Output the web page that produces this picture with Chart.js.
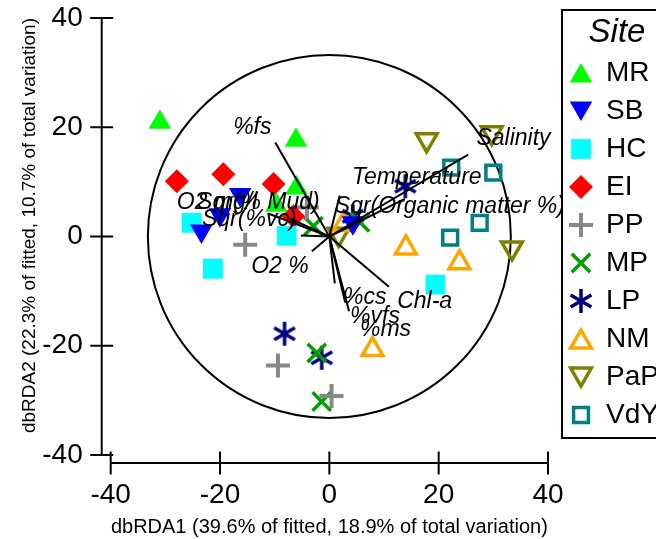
<!DOCTYPE html>
<html>
<head>
<meta charset="utf-8">
<script src="https://cdn.jsdelivr.net/npm/chart.js@4.4.0/dist/chart.umd.min.js"></script>
<style>
  html, body { margin: 0; padding: 0; background: #fff; }
  canvas { display: block; }
</style>
</head>
<body>
<canvas id="dbrda" width="656" height="539"></canvas>
<script>
// site scores on dbRDA1 / dbRDA2
const MR = [[-31.0, 20.9], [-6.1, 17.6], [-6.0, 8.9], [-9.7, 5.7]];
const SB = [[-16.3, 7.7], [-20.0, 4.0], [-23.4, 1.0], [4.3, 2.5]];
const HC = [[-25.2, 2.5], [-7.8, 0.1], [-21.3, -5.9], [19.4, -8.8]];
const EI = [[-27.9, 10.1], [-19.4, 11.4], [-10.2, 9.6], [-6.6, 3.7]];
const PP = [[-15.4, -1.5], [-9.4, -23.6], [0.4, -29.2], [-4.1, 5.3]];
const MP = [[-2.3, -21.3], [-1.4, -30.2], [-2.9, 1.9], [5.6, 2.6]];
const LP = [[13.9, 9.2], [-8.2, -17.8], [-1.4, -22.2], [4.3, 3.7]];
const NM = [[14.0, -2.1], [23.8, -4.8], [7.9, -20.7], [2.6, 2.2]];
const PaP = [[17.8, 17.7], [29.7, 19.0], [33.4, -2.1], [1.7, 0.4]];
const VdY = [[22.3, 12.6], [30.0, 11.7], [22.1, -0.2], [27.5, 2.5]];

// predictor vectors (end points, drawn from the origin)
const vectorNames = ['%fs', 'Salinity', 'Temperature', 'Sqr(Organic matter %)', 'O2 mg/l', 'Sqr(% Mud)',
  'Sqr(%vc)', 'O2 %', '%cs', 'Chl-a', '%vfs', '%ms'];
const vectorX = [-9.9, 25.4, 13.8, 1.9, -5.2, -11.2, -7.7, -3.2, 1.0, 10.9, 2.9, 3.6];
const vectorY = [17.2, 15.0, 6.9, 7.5, 0.2, 4.2, 3.5, -2.7, -8.6, -9.2, -12.1, -13.7];

const axisTicks = [-40, -20, 0, 20, 40];
const circleRadius = 33.2;

// where each vector name is written (left edge, middle), in axis units
const labelAt = [[-17.6, 20.0], [26.9, 17.9], [4.15, 10.8], [1.0, 5.5], [-27.9, 6.2], [-24.2, 6.2],
  [-23.3, 3.1], [-14.3, -5.5], [2.5, -11.2], [12.4, -11.9], [3.8, -14.6], [5.6, -17.0]];

const FONT = '"Liberation Sans", Arial, sans-serif';
Chart.defaults.font.family = FONT;
Chart.defaults.color = '#000';

// six-armed asterisk for LP
function asterisk(color) {
  const c = document.createElement('canvas');
  c.width = 26; c.height = 26;
  const g = c.getContext('2d');
  g.strokeStyle = color;
  g.lineWidth = 3.5;
  g.beginPath();
  [90, 30, 150].forEach(function (deg) {
    const a = deg * Math.PI / 180;
    g.moveTo(13 - Math.cos(a) * 12, 13 - Math.sin(a) * 12);
    g.lineTo(13 + Math.cos(a) * 12, 13 + Math.sin(a) * 12);
  });
  g.stroke();
  return c;
}

const open = 'rgba(0,0,0,0)';
const siteStyles = [
  { label: 'MR', data: MR, pointStyle: 'triangle', rotation: 0, radius: 13, bg: '#00ff00', bd: '#00ff00', bw: 0 },
  { label: 'SB', data: SB, pointStyle: 'triangle', rotation: 180, radius: 13, bg: '#0000ff', bd: '#0000ff', bw: 0 },
  { label: 'HC', data: HC, pointStyle: 'rect', rotation: 0, radius: 14, bg: '#00ffff', bd: '#00ffff', bw: 0 },
  { label: 'EI', data: EI, pointStyle: 'rectRot', rotation: 0, radius: 12, bg: '#ff0000', bd: '#ff0000', bw: 0 },
  { label: 'PP', data: PP, pointStyle: 'cross', rotation: 0, radius: 12, bg: open, bd: '#888888', bw: 4 },
  { label: 'MP', data: MP, pointStyle: 'crossRot', rotation: 0, radius: 13, bg: open, bd: '#00a000', bw: 3.5 },
  { label: 'LP', data: LP, pointStyle: asterisk('#000080'), rotation: 0, radius: 12, bg: open, bd: '#000080', bw: 3.5 },
  { label: 'NM', data: NM, pointStyle: 'triangle', rotation: 0, radius: 12, bg: open, bd: '#ffa500', bw: 3.5 },
  { label: 'PaP', data: PaP, pointStyle: 'triangle', rotation: 180, radius: 12, bg: open, bd: '#808000', bw: 3.5 },
  { label: 'VdY', data: VdY, pointStyle: 'rect', rotation: 0, radius: 10.5, bg: open, bd: '#008080', bw: 3.5 }
];

const vectorSets = vectorNames.map(function (name, i) {
  return {
    label: name,
    data: [{ x: 0, y: 0 }, { x: vectorX[i], y: vectorY[i] }],
    showLine: true,
    borderColor: '#000',
    borderWidth: 2,
    pointRadius: 0,
    order: 0
  };
});

const siteSets = siteStyles.map(function (s) {
  return {
    label: s.label,
    data: s.data.map(function (p) { return { x: p[0], y: p[1] }; }),
    pointStyle: s.pointStyle,
    rotation: s.rotation,
    pointRadius: s.radius,
    backgroundColor: s.bg,
    borderColor: s.bd,
    borderWidth: s.bw,
    order: 1
  };
});

// detached axes, correlation circle, vector names and the Site key
const ordination = {
  id: 'ordination',
  beforeDatasetsDraw(chart) {
    const ctx = chart.ctx, xs = chart.scales.x, ys = chart.scales.y;
    ctx.save();
    ctx.strokeStyle = '#000';
    ctx.lineWidth = 2;
    const cx = xs.getPixelForValue(0), cy = ys.getPixelForValue(0);
    const r = xs.getPixelForValue(circleRadius) - cx;
    ctx.beginPath();
    ctx.arc(cx, cy, r, 0, Math.PI * 2);
    ctx.stroke();

    const ax = xs.left - 9, ay = ys.bottom + 8, t = 11.5;
    ctx.beginPath();
    ctx.moveTo(ax, ys.getPixelForValue(axisTicks[axisTicks.length - 1]));
    ctx.lineTo(ax, ys.getPixelForValue(axisTicks[0]));
    axisTicks.forEach(function (v) {
      const py = ys.getPixelForValue(v);
      ctx.moveTo(ax - t, py); ctx.lineTo(ax + t, py);
    });
    ctx.moveTo(xs.getPixelForValue(axisTicks[0]), ay);
    ctx.lineTo(xs.getPixelForValue(axisTicks[axisTicks.length - 1]), ay);
    axisTicks.forEach(function (v) {
      const px = xs.getPixelForValue(v);
      ctx.moveTo(px, ay - t); ctx.lineTo(px, ay + t);
    });
    ctx.stroke();
    ctx.restore();
  },
  afterDatasetsDraw(chart) {
    const ctx = chart.ctx, xs = chart.scales.x, ys = chart.scales.y;
    ctx.save();
    ctx.fillStyle = '#000';
    ctx.font = 'italic 23px ' + FONT;
    ctx.textAlign = 'left';
    ctx.textBaseline = 'middle';
    vectorNames.forEach(function (name, i) {
      ctx.fillText(name, xs.getPixelForValue(labelAt[i][0]), ys.getPixelForValue(labelAt[i][1]));
    });
    ctx.restore();
  },
  afterDraw(chart) {
    const ctx = chart.ctx;
    ctx.save();
    ctx.fillStyle = '#fff';
    ctx.strokeStyle = '#000';
    ctx.lineWidth = 2;
    ctx.fillRect(562, 10, 120, 428);
    ctx.strokeRect(562, 10, 120, 428);
    ctx.fillStyle = '#000';
    ctx.textBaseline = 'middle';
    ctx.textAlign = 'center';
    ctx.font = 'italic 33px ' + FONT;
    ctx.fillText('Site', 617, 33);
    ctx.textAlign = 'left';
    ctx.font = '28px ' + FONT;
    siteStyles.forEach(function (s, i) {
      const y = 73 + i * 38;
      ctx.fillStyle = s.bg;
      ctx.strokeStyle = s.bd;
      ctx.lineWidth = s.bw;
      Chart.helpers.drawPoint(ctx, {
        pointStyle: s.pointStyle, rotation: s.rotation, radius: s.radius, borderWidth: s.bw
      }, 581, y + (s.pointStyle === 'triangle' ? (s.rotation ? -3 : 3) : 0));
      ctx.fillStyle = '#000';
      ctx.fillText(s.label, 606, y);
    });
    ctx.restore();
  }
};

function noOverhang(scale) {
  scale.paddingTop = 0;
  scale.paddingBottom = 0;
  scale.paddingLeft = 0;
  scale.paddingRight = 0;
}

new Chart(document.getElementById('dbrda'), {
  type: 'scatter',
  data: { datasets: vectorSets.concat(siteSets) },
  options: {
    responsive: false,
    animation: false,
    devicePixelRatio: 1,
    layout: { padding: { top: 18, right: 108, left: 0, bottom: 0 } },
    plugins: { legend: { display: false }, tooltip: { enabled: false } },
    scales: {
      x: {
        type: 'linear',
        min: -40,
        max: 40,
        afterFit(scale) { scale.height = 84; noOverhang(scale); },
        afterBuildTicks(scale) { scale.ticks = axisTicks.map(function (v) { return { value: v }; }); },
        grid: { display: false, drawTicks: false },
        border: { display: false },
        ticks: { font: { size: 28 }, padding: 23, maxRotation: 0 },
        title: {
          display: true,
          text: 'dbRDA1 (39.6% of fitted, 18.9% of total variation)',
          font: { size: 20 },
          padding: { top: 0, bottom: 0 }
        }
      },
      y: {
        type: 'linear',
        min: -40,
        max: 40,
        afterFit(scale) { scale.width = 110.7; noOverhang(scale); },
        afterBuildTicks(scale) { scale.ticks = axisTicks.map(function (v) { return { value: v }; }); },
        grid: { display: false, drawTicks: false },
        border: { display: false },
        ticks: { font: { size: 28 }, padding: 28 },
        title: {
          display: true,
          text: 'dbRDA2 (22.3% of fitted, 10.7% of total variation)',
          font: { size: 19 },
          align: 'end',
          padding: { top: 18, bottom: 0 }
        }
      }
    }
  },
  plugins: [ordination]
});
</script>
</body>
</html>
